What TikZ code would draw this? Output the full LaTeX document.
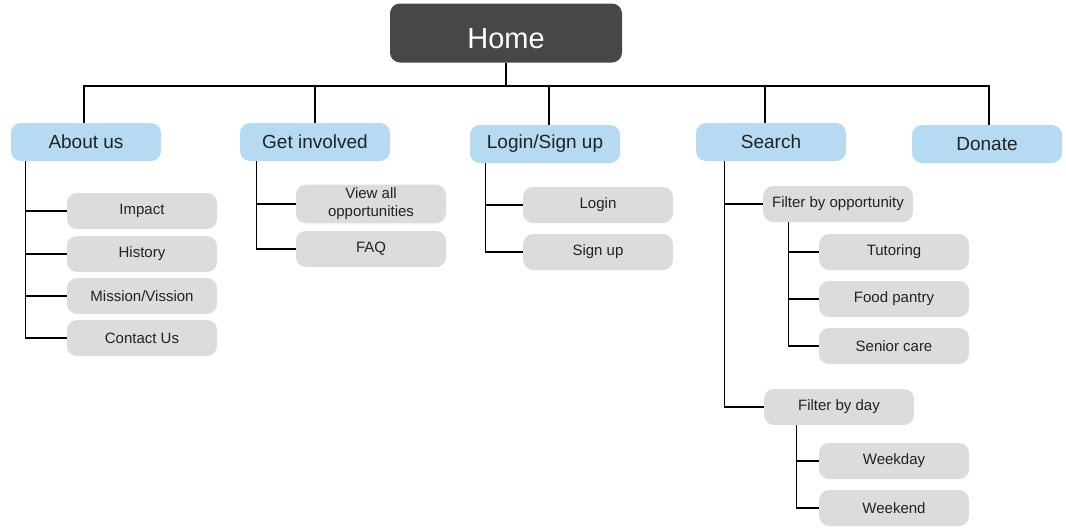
\documentclass[tikz,border=0pt]{standalone}
\usepackage{fontspec}
\setmainfont{Liberation Sans}
\definecolor{homegray}{HTML}{474747}
\definecolor{secblue}{HTML}{B5DAF1}
\definecolor{leafgray}{HTML}{DCDCDC}
\definecolor{inkgray}{HTML}{222222}
\tikzset{
  homebox/.style={fill=homegray, text=white, rounded corners=10pt,
    minimum width=232pt, minimum height=59pt, text height=30pt, text depth=0pt,
    font=\fontsize{29}{34}\selectfont},
  secbox/.style={fill=secblue, text=inkgray, rounded corners=10pt,
    minimum width=150pt, minimum height=38pt, font=\fontsize{19}{23}\selectfont},
  leafbox/.style={fill=leafgray, text=inkgray, rounded corners=10pt, align=center,
    minimum width=150pt, minimum height=36pt, font=\fontsize{15}{18}\selectfont},
  link/.style={draw=black, line width=1.2pt}
}
\begin{document}
\begin{tikzpicture}[x=1pt,y=-1pt]
    \useasboundingbox (0,0) rectangle (1066,528);
    % top level
    \node [homebox] (home) at (506,33) {Home};
    \node [secbox] (about) at (86,142) {About us};
    \node [secbox] (involved) at (315,142) {Get involved};
    \node [secbox] (login) at (545,144) {Login/Sign up};
    \node [secbox] (search) at (771,142) {Search};
    \node [secbox] (donate) at (987,144) {Donate};
    % pages under each section
    \node [leafbox] (impact) at (142,211) {Impact};
    \node [leafbox] (history) at (142,254) {History};
    \node [leafbox] (mission) at (142,296) {Mission/Vission};
    \node [leafbox] (contact) at (142,338) {Contact Us};
    \node [leafbox] (viewall) at (371,204) {View all\\opportunities};
    \node [leafbox] (faq) at (371,249) {FAQ};
    \node [leafbox] (signin) at (598,205) {Login};
    \node [leafbox] (signup) at (598,252) {Sign up};
    \node [leafbox] (filteropp) at (838,204) {Filter by opportunity};
    \node [leafbox] (filterday) at (839,407) {Filter by day};
    \node [leafbox] (tutoring) at (894,252) {Tutoring};
    \node [leafbox] (pantry) at (894,299) {Food pantry};
    \node [leafbox] (senior) at (894,346) {Senior care};
    \node [leafbox] (weekday) at (894,461) {Weekday};
    \node [leafbox] (weekend) at (894,508) {Weekend};
    % bus and trunks
    \coordinate (bus) at (506,86);
    \coordinate (aboutT) at ([xshift=15pt]about.south west);
    \coordinate (involvedT) at ([xshift=17pt]involved.south west);
    \coordinate (loginT) at ([xshift=16pt]login.south west);
    \coordinate (searchT) at ([xshift=29pt]search.south west);
    \coordinate (oppT) at ([xshift=26pt]filteropp.south west);
    \coordinate (dayT) at ([xshift=33pt]filterday.south west);
    \draw [link] (home.south) -- (bus);
    \foreach \s/\dx in {about/-2,involved/0,login/4,search/-6,donate/2}
      \draw [link] ([xshift=\dx pt]\s.north) |- (bus);
    \foreach \c in {impact,history,mission,contact}
      \draw [link] (aboutT) |- (\c.west);
    \foreach \c in {viewall,faq}
      \draw [link] (involvedT) |- (\c.west);
    \foreach \c in {signin,signup}
      \draw [link] (loginT) |- (\c.west);
    \foreach \c in {filteropp,filterday}
      \draw [link] (searchT) |- (\c.west);
    \foreach \c in {tutoring,pantry,senior}
      \draw [link] (oppT) |- (\c.west);
    \foreach \c in {weekday,weekend}
      \draw [link] (dayT) |- (\c.west);
\end{tikzpicture}
\end{document}
